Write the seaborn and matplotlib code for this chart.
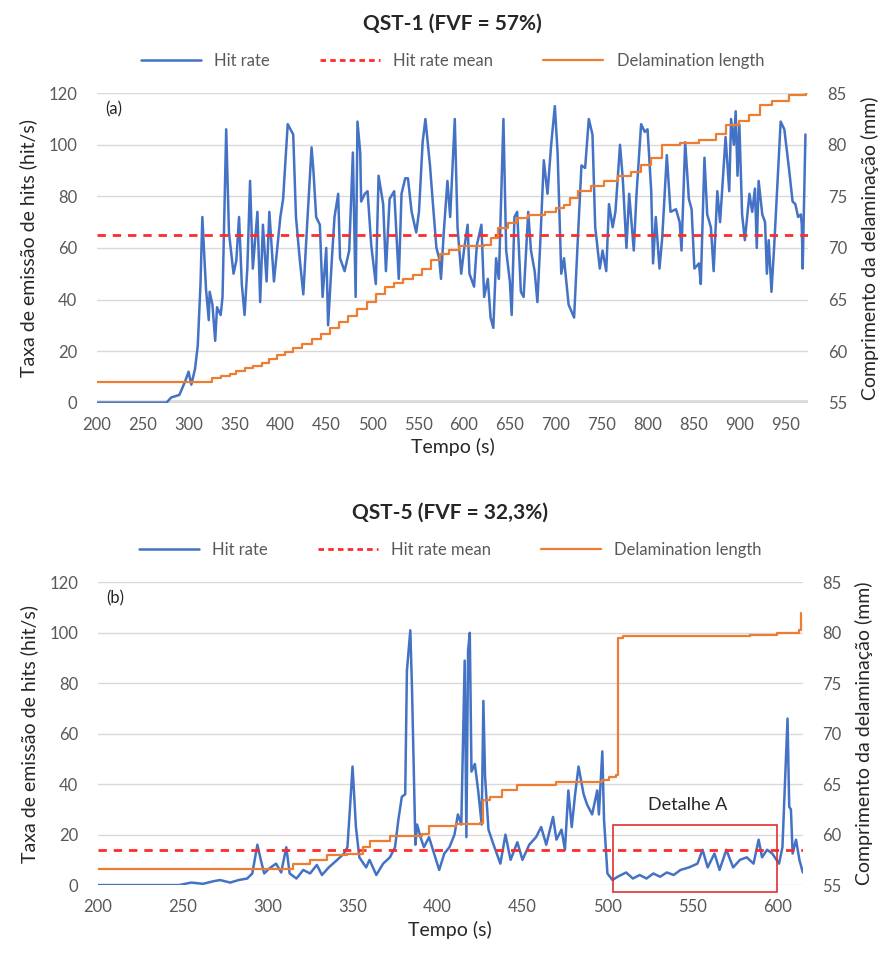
import pandas as pd
import seaborn as sns
import matplotlib.pyplot as plt
from matplotlib.lines import Line2D
from matplotlib.patches import Rectangle

# ---- QST-1 (FVF = 57%) ----
qst1_time = [200, 276, 281, 290, 296, 300, 303, 307, 310, 313, 315, 319, 322, 323, 326, 329, 331, 335, 337, 341,
             344, 349, 352, 355, 358, 361, 364, 367, 370, 375, 378, 381, 385, 388, 393, 400, 403, 408, 414, 417,
             421, 425, 429, 434, 436, 439, 443, 446, 450, 452, 456, 459, 463, 465, 470, 475, 479, 482, 484, 487,
             488, 492, 495, 499, 504, 507, 512, 515, 519, 524, 529, 532, 536, 539, 543, 548, 551, 555, 558, 563,
             566, 570, 573, 575, 578, 582, 585, 590, 593, 597, 600, 604, 606, 611, 614, 619, 622, 626, 629, 632,
             635, 638, 643, 646, 650, 652, 655, 658, 662, 665, 670, 673, 677, 680, 683, 687, 691, 695, 699, 702,
             706, 709, 714, 720, 724, 728, 732, 736, 740, 743, 748, 751, 755, 758, 762, 765, 770, 773, 777, 780,
             785, 788, 793, 797, 800, 804, 806, 809, 813, 816, 821, 825, 831, 835, 837, 841, 845, 848, 851, 856,
             858, 862, 865, 869, 872, 876, 879, 885, 889, 891, 894, 896, 898, 900, 903, 906, 911, 914, 917, 919,
             921, 925, 928, 930, 932, 935, 938, 943, 945, 949, 954, 958, 961, 964, 967, 968, 969, 972]
qst1_hits = [0, 0, 2, 3, 8, 12, 7, 13, 22, 46, 72, 44, 32, 43, 38, 24, 37, 34, 41, 106,
             66, 50, 55, 72, 46, 34, 52, 86, 52, 74, 39, 69, 47, 74, 47, 72, 79, 108, 104, 72,
             56, 42, 68, 99, 90, 72, 69, 41, 60, 30, 55, 72, 81, 56, 51, 59, 97, 41, 109, 97,
             78, 81, 82, 61, 46, 88, 77, 51, 79, 82, 48, 81, 87, 87, 74, 66, 74, 101, 110, 92,
             78, 60, 56, 48, 66, 86, 72, 110, 68, 50, 59, 69, 50, 45, 61, 69, 41, 48, 33, 29,
             56, 48, 110, 59, 47, 34, 72, 74, 43, 41, 74, 59, 51, 39, 61, 94, 81, 100, 115, 97,
             50, 56, 38, 33, 63, 92, 91, 110, 104, 68, 52, 59, 51, 77, 68, 74, 100, 87, 60, 81,
             59, 81, 108, 105, 106, 82, 54, 72, 52, 64, 96, 74, 75, 70, 59, 101, 79, 75, 52, 54,
             46, 95, 73, 68, 51, 82, 70, 103, 82, 110, 100, 113, 88, 108, 73, 63, 81, 74, 83, 60,
             86, 73, 70, 50, 63, 43, 61, 95, 109, 106, 91, 78, 77, 72, 73, 69, 52, 104]
qst1_mean = 65
qst1_delam_time = [200, 322, 326, 335, 345, 352, 361, 370, 380, 388, 396, 405, 414, 424, 434, 444, 454, 464,
                   474, 484, 494, 504, 514, 524, 534, 544, 554, 564, 574, 584, 595, 622, 630, 637, 648, 658,
                   670, 688, 700, 709, 716, 724, 738, 753, 768, 782, 793, 804, 816, 835, 856, 875, 886, 900,
                   911, 922, 936, 954, 973]
qst1_delam = [57.0, 57.0, 57.4, 57.6, 57.8, 58.1, 58.4, 58.6, 58.8, 59.2, 59.6, 59.9, 60.3, 60.7, 61.2, 61.7,
              62.2, 62.8, 63.4, 64.1, 64.8, 65.5, 66.2, 66.6, 67.0, 67.4, 68.0, 68.8, 69.4, 69.8, 70.2, 70.3,
              71.0, 71.9, 72.4, 72.9, 73.2, 73.5, 73.9, 74.2, 74.8, 75.5, 76.0, 76.5, 77.0, 77.4, 78.0, 78.7,
              80.0, 80.2, 80.5, 81.0, 81.9, 82.3, 82.9, 83.9, 84.2, 84.8, 85.0]

# ---- QST-5 (FVF = 32,3%) ----
qst5_time = [200, 248, 255, 262, 268, 272, 278, 283, 288, 291, 294, 296, 298, 301, 305, 308, 311, 313, 317, 321,
             325, 329, 332, 336, 341, 345, 347, 349, 350, 352, 354, 358, 360, 364, 368, 372, 375, 377, 379, 381,
             382, 384, 385, 387, 388, 390, 392, 395, 398, 401, 404, 407, 410, 412, 414, 416, 417, 418, 419, 420,
             422, 424, 426, 427, 428, 430, 433, 437, 440, 443, 447, 450, 454, 458, 461, 464, 468, 470, 473, 475,
             477, 479, 481, 483, 486, 488, 491, 494, 495, 497, 498, 500, 503, 506, 511, 515, 519, 523, 527, 531,
             535, 539, 543, 548, 553, 556, 559, 563, 566, 570, 574, 578, 582, 586, 589, 591, 594, 597, 601, 603,
             606, 607, 608, 609, 611, 613, 615]
qst5_hits = [0, 0, 1, 0.5, 1.5, 2, 1, 2, 2.6, 4.6, 16, 10, 4.6, 6.6, 8.5, 5, 15, 4.6, 2.6, 6,
             4.6, 8, 4, 7, 10, 12.5, 15, 36, 47, 23, 11, 7, 10, 4, 8.5, 11, 15, 26, 35, 36,
             85, 101, 78, 16, 24, 19, 15, 19, 12.5, 6, 12.5, 15, 20, 28, 24, 89, 19, 93, 100, 45,
             48, 37, 24, 73, 43, 22, 16, 8.5, 20, 10, 17, 10, 16, 19, 23, 16, 27, 18, 22, 14,
             37.5, 23, 36, 47, 36, 32, 28, 37.5, 28, 53, 26, 4.6, 2, 3.3, 5, 2.6, 4, 2.6, 4.6, 3.3,
             5, 4, 6, 7, 8.5, 14, 7, 12.5, 6, 14, 7, 10, 11, 8.5, 18, 11, 14, 12.5, 8.5, 15,
             66, 31, 30, 12.5, 18, 10, 5]
qst5_mean = 14
qst5_delam_time = [200, 313, 315, 325, 335, 347, 356, 360, 372, 391, 395, 411, 425, 427, 431, 438, 447, 470,
                   497, 501, 505, 506, 509, 584, 600, 613, 614]
qst5_delam = [56.6, 56.6, 57.1, 57.5, 58.0, 58.1, 58.8, 59.4, 59.9, 60.1, 60.9, 61.1, 61.2, 63.4, 63.7, 64.4,
              64.9, 65.2, 65.4, 65.7, 65.9, 79.5, 79.7, 79.8, 80.0, 80.3, 82.0]

BLUE = '#4472C4'
ORANGE = '#ED7D31'
RED = '#FF2A2A'
GREY = '#595959'
GRID = '#D9D9D9'
DARK = '#262626'

sns.set_theme(style='white')
plt.rcParams['font.family'] = ['Lato', 'DejaVu Sans']

fig = plt.figure(figsize=(8.96, 9.61), dpi=100)


def panel(rect, t, hits, mean, dt, dl, xmax, xticks, tag, title, thick_base):
    ax = fig.add_axes(rect)
    ax.grid(axis='y', color=GRID, lw=1)
    ax.set_axisbelow(True)
    if thick_base:
        ax.axhline(0, color=GRID, lw=4, zorder=0.5)
    sns.lineplot(x=t, y=hits, ax=ax, color=BLUE, lw=1.8, errorbar=None)
    ax.axhline(mean, color=RED, lw=2, ls=(0, (3, 2.5)))
    ax2 = ax.twinx()
    sns.lineplot(x=dt, y=dl, ax=ax2, color=ORANGE, lw=1.6, errorbar=None, drawstyle='steps-post')

    ax.set_xlim(200, xmax)
    ax.set_xticks(xticks)
    ax.set_ylim(0, 120)
    ax.set_yticks(range(0, 121, 20))
    ax2.set_ylim(55, 85)
    ax2.set_yticks(range(55, 86, 5))
    ax2.grid(False)
    for a in (ax, ax2):
        for s in a.spines.values():
            s.set_visible(False)
        a.tick_params(length=0, labelsize=12, labelcolor=GREY, pad=10)
    ax.tick_params(axis='y', pad=14)
    ax2.tick_params(axis='y', pad=14)

    ax.set_xlabel('Tempo (s)', fontsize=14, color=DARK, labelpad=4)
    ax.set_ylabel('Taxa de emissão de hits (hit/s)', fontsize=14, color=DARK, labelpad=8)
    ax2.set_ylabel('Comprimento da delaminação (mm)', fontsize=14, color=DARK, labelpad=10)
    ax.text(0.012, 0.93, tag, transform=ax.transAxes, fontsize=12, color=DARK)

    handles = [Line2D([], [], color=BLUE, lw=1.8),
               Line2D([], [], color=RED, lw=2, ls=(0, (2, 1.5))),
               Line2D([], [], color=ORANGE, lw=1.6)]
    ax.legend(handles, ['Hit rate', 'Hit rate mean', 'Delamination length'],
              loc='lower center', bbox_to_anchor=(0.5, 1.03), ncol=3, frameon=False,
              fontsize=12, labelcolor=GREY, handlelength=3.6, columnspacing=3.0)
    ax.set_title(title, fontsize=15, color=DARK, fontweight='bold', pad=46)
    return ax, ax2


panel([0.108, 0.581, 0.794, 0.322], qst1_time, qst1_hits, qst1_mean,
      qst1_delam_time, qst1_delam, 975, range(200, 951, 50), '(a)', 'QST-1 (FVF = 57%)', True)

axb, axb2 = panel([0.109, 0.079, 0.787, 0.315], qst5_time, qst5_hits, qst5_mean,
                  qst5_delam_time, qst5_delam, 615, range(200, 601, 50), '(b)', 'QST-5 (FVF = 32,3%)', False)

# Detail box drawn over the low-activity stretch after the big jump
axb.add_patch(Rectangle((503, -2.6), 97, 26.3, fill=False, ec='#E03030', lw=1.2, clip_on=False, zorder=5))
axb.text(547, 31.6, 'Detalhe A', ha='center', va='center', fontsize=13, color=DARK)

fig.savefig('out.png', dpi=100)
